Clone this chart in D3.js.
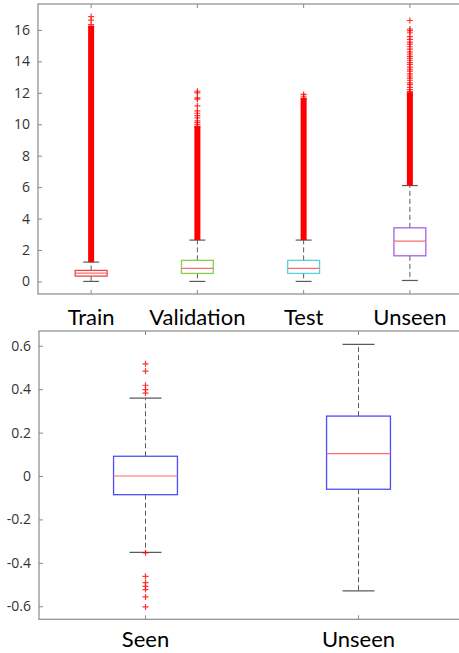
<!DOCTYPE html>
<html>
<head>
<meta charset="utf-8">
<script src="https://cdn.jsdelivr.net/npm/d3@7"></script>
<style>
  body { margin: 0; background: #fff; }
  svg { display: block; }
</style>
</head>
<body>
<svg id="chart" width="459" height="653"></svg>
<script>
// ---- top panel data ----
var topCategories = ["Train", "Validation", "Test", "Unseen"];
var topColors = ["#e5484b", "#86d04e", "#55d3d8", "#a362e2"];
var topQ1 = [0.34, 0.51, 0.51, 1.63];
var topMedian = [0.53, 0.83, 0.83, 2.57];
var topQ3 = [0.70, 1.34, 1.34, 3.41];
var topWhiskerLo = [0.0, 0.0, 0.0, 0.06];
var topWhiskerHi = [1.23, 2.63, 2.63, 6.1];
// outliers so dense they fuse into one solid column: [from, to]
var topDenseOutliers = [[1.23, 16.08], [2.63, 9.7], [2.63, 11.5], [6.1, 11.85]];
// the sparse outliers above the solid columns
var topSparseOutliers = [
  [16.34, 16.62, 16.85],
  [9.82, 9.97, 10.1, 10.22, 10.4, 10.55, 10.7, 10.85, 11.17, 11.6, 11.68, 12.0, 12.1],
  [11.62, 11.78, 11.9],
  [11.95, 12.07, 12.2, 12.34, 12.52, 12.63, 12.8, 12.93, 13.07, 13.2, 13.38, 13.5,
   13.64, 13.8, 13.92, 14.07, 14.2, 14.32, 14.47, 14.6, 14.78, 14.93, 15.1, 15.22,
   15.4, 15.58, 15.82, 15.96, 16.06, 16.6]
];
var topYTicks = [0, 2, 4, 6, 8, 10, 12, 14, 16];

// ---- bottom panel data ----
var bottomCategories = ["Seen", "Unseen"];
var bottomQ1 = [-0.086, -0.061];
var bottomMedian = [0.0, 0.103];
var bottomQ3 = [0.091, 0.276];
var bottomWhiskerLo = [-0.352, -0.529];
var bottomWhiskerHi = [0.359, 0.606];
var bottomOutliers = [
  [0.517, 0.483, 0.418, 0.398, 0.382, -0.354, -0.462, -0.491, -0.508, -0.523, -0.557, -0.603],
  []
];
var bottomYTicks = [-0.6, -0.4, -0.2, 0, 0.2, 0.4, 0.6];
var bottomYTickLabels = ["-0.6", "-0.4", "-0.2", "0", "0.2", "0.4", "0.6"];

var svg = d3.select("#chart");
var axisColor = "#8a8a8a";
var whiskerColor = "#5a5a5a";
var medianColor = "#ff6b6b";
var outlierColor = "#ff0000";
var boxWidth = 0.3; // in category units

// draws one boxplot panel
function drawPanel(opts) {
  var n = opts.categories.length;
  var x = d3.scaleLinear().domain([0.5, n + 0.5]).range([opts.left, opts.right]);
  var y = d3.scaleLinear().domain(opts.yDomain).range([opts.bottom, opts.top]);
  var g = svg.append("g");

  // axes frame
  g.append("rect")
    .attr("x", opts.left).attr("y", opts.top)
    .attr("width", opts.right - opts.left).attr("height", opts.bottom - opts.top)
    .attr("fill", "none").attr("stroke", axisColor).attr("stroke-width", 1.2);

  // y axis ticks (inward) and labels
  var yAxis = d3.axisLeft(y).tickValues(opts.yTicks).tickSizeInner(-4).tickSizeOuter(0)
    .tickPadding(8).tickFormat(function(d, i) { return opts.yTickLabels[i]; });
  var ya = g.append("g").attr("transform", "translate(" + opts.left + ",0)").call(yAxis);
  ya.select(".domain").remove();
  ya.selectAll(".tick line").attr("stroke", axisColor);
  ya.selectAll(".tick text")
    .attr("fill", "#333").style("font-family", "'Open Sans', sans-serif").style("font-size", "14px");

  // x ticks inward on bottom and top
  var idx = d3.range(1, n + 1);
  g.selectAll(".xtb").data(idx).join("line")
    .attr("x1", d => x(d)).attr("x2", d => x(d))
    .attr("y1", opts.bottom).attr("y2", opts.bottom - 4)
    .attr("stroke", axisColor);
  g.selectAll(".xtt").data(idx).join("line")
    .attr("x1", d => x(d)).attr("x2", d => x(d))
    .attr("y1", opts.top).attr("y2", opts.top + 4)
    .attr("stroke", axisColor);

  // category labels
  g.selectAll(".cat").data(opts.categories).join("text")
    .attr("x", (d, i) => x(i + 1)).attr("y", opts.labelY)
    .attr("text-anchor", "middle")
    .style("font-family", "Lato, sans-serif").style("font-size", "22px")
    .attr("fill", "#000")
    .text(d => d);

  var half = boxWidth / 2;
  opts.categories.forEach(function(c, i) {
    var cx = i + 1;
    var bg = g.append("g");
    // whiskers, dashed
    bg.append("line")
      .attr("x1", x(cx)).attr("x2", x(cx))
      .attr("y1", y(opts.q3[i])).attr("y2", y(opts.whiskerHi[i]))
      .attr("stroke", whiskerColor).attr("stroke-dasharray", "5,3");
    bg.append("line")
      .attr("x1", x(cx)).attr("x2", x(cx))
      .attr("y1", y(opts.q1[i])).attr("y2", y(opts.whiskerLo[i]))
      .attr("stroke", whiskerColor).attr("stroke-dasharray", "5,3");
    // caps
    [opts.whiskerHi[i], opts.whiskerLo[i]].forEach(function(v) {
      bg.append("line")
        .attr("x1", x(cx - half / 2)).attr("x2", x(cx + half / 2))
        .attr("y1", y(v)).attr("y2", y(v))
        .attr("stroke", whiskerColor).attr("stroke-width", 1.2);
    });
    // box
    bg.append("rect")
      .attr("x", x(cx - half)).attr("y", y(opts.q3[i]))
      .attr("width", x(cx + half) - x(cx - half))
      .attr("height", y(opts.q1[i]) - y(opts.q3[i]))
      .attr("fill", "none").attr("stroke", opts.boxColors[i]).attr("stroke-width", 1.3);
    // median
    bg.append("line")
      .attr("x1", x(cx - half)).attr("x2", x(cx + half))
      .attr("y1", y(opts.median[i])).attr("y2", y(opts.median[i]))
      .attr("stroke", medianColor).attr("stroke-width", 1.2);

    // dense outlier column
    if (opts.dense && opts.dense[i]) {
      var r = opts.dense[i];
      bg.append("rect")
        .attr("x", x(cx) - 3).attr("width", 6)
        .attr("y", y(r[1]) - 3).attr("height", y(r[0]) - y(r[1]) + 3)
        .attr("fill", outlierColor);
    }
    // individual outliers as '+'
    bg.selectAll(".out").data(opts.outliers[i]).join("path")
      .attr("d", function(v) {
        var px = x(cx), py = y(v);
        return "M" + (px - 3) + "," + py + "H" + (px + 3) + "M" + px + "," + (py - 3) + "V" + (py + 3);
      })
      .attr("stroke", outlierColor).attr("stroke-width", 1.2).attr("fill", "none")
      .attr("opacity", 0.8);
  });
}

drawPanel({
  categories: topCategories,
  left: 38, right: 463, top: 4, bottom: 294,
  yDomain: [-0.8, 17.65],
  yTicks: topYTicks,
  yTickLabels: topYTicks.map(String),
  labelY: 325,
  boxColors: topColors,
  q1: topQ1, median: topMedian, q3: topQ3,
  whiskerLo: topWhiskerLo, whiskerHi: topWhiskerHi,
  dense: topDenseOutliers,
  outliers: topSparseOutliers
});

drawPanel({
  categories: bottomCategories,
  left: 39, right: 465, top: 331, bottom: 619.3,
  yDomain: [-0.66, 0.668],
  yTicks: bottomYTicks,
  yTickLabels: bottomYTickLabels,
  labelY: 647,
  boxColors: ["#4d4dff", "#4d4dff"],
  q1: bottomQ1, median: bottomMedian, q3: bottomQ3,
  whiskerLo: bottomWhiskerLo, whiskerHi: bottomWhiskerHi,
  dense: null,
  outliers: bottomOutliers
});
</script>
</body>
</html>
